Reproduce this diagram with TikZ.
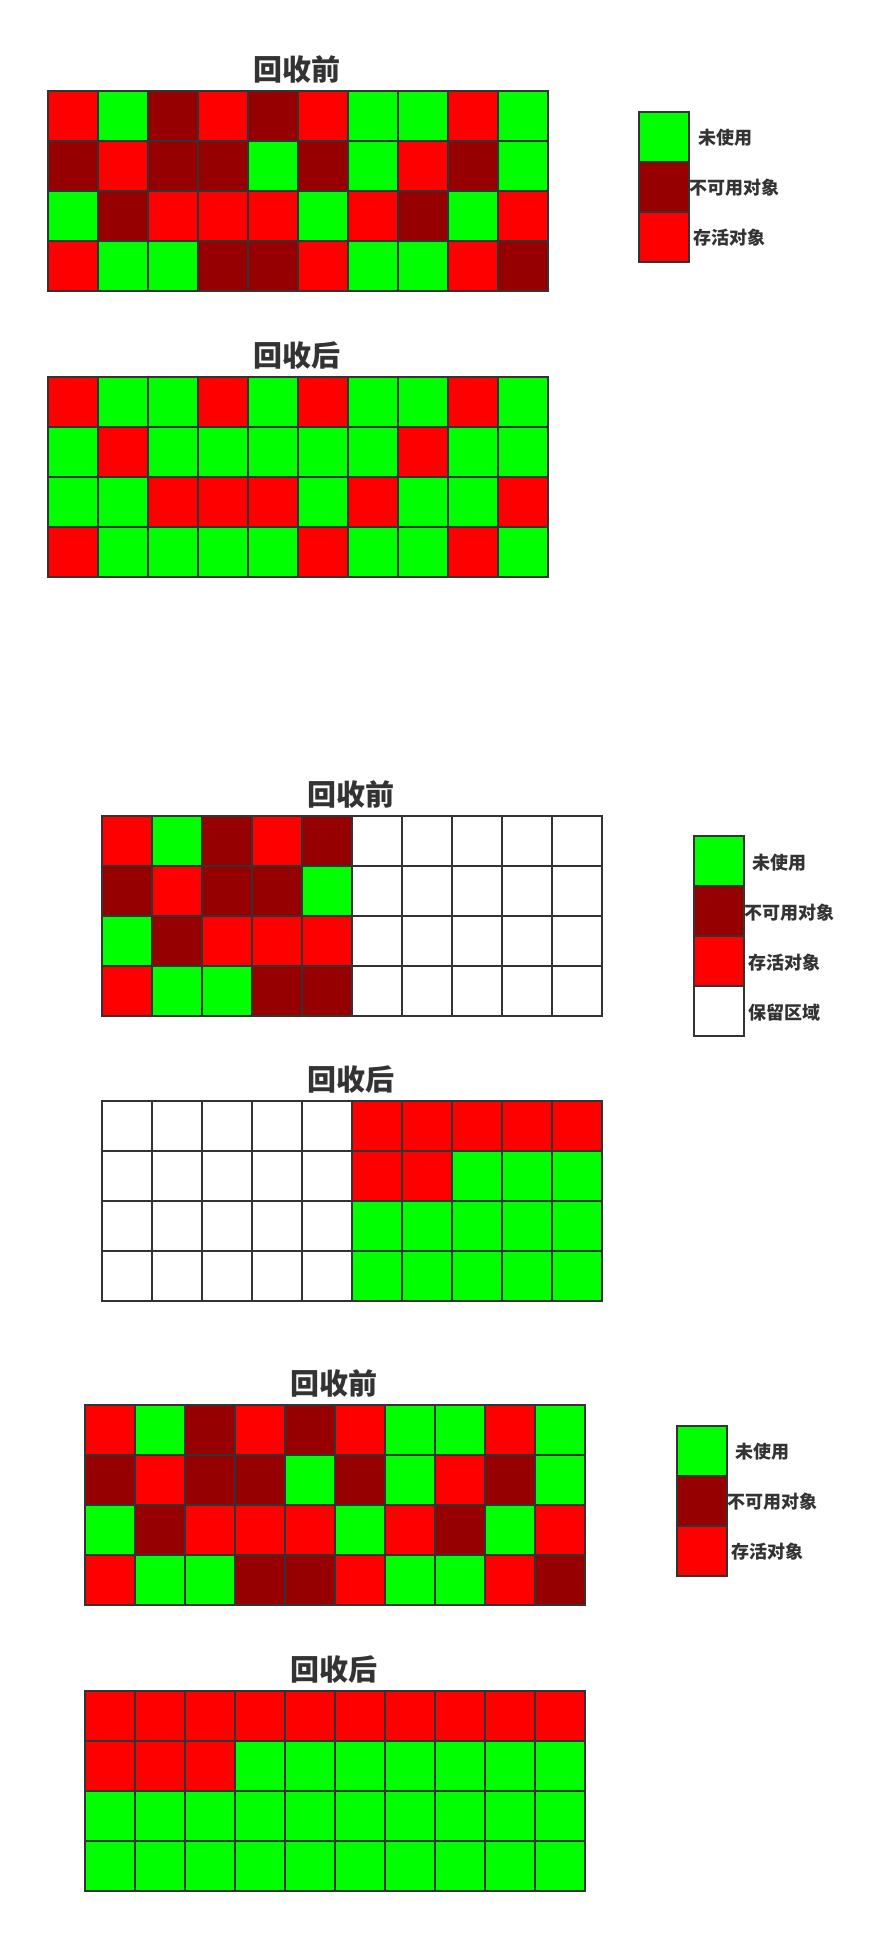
\documentclass[tikz,border=0pt]{standalone}
\usepackage{fontspec}
\newfontfamily\cjk{Noto Sans CJK SC}
\usepackage{tikz}
\usetikzlibrary{positioning}
\definecolor{free}{RGB}{0,255,0}
\definecolor{dead}{RGB}{150,0,0}
\definecolor{live}{RGB}{255,0,0}
\definecolor{rim}{RGB}{51,51,51}
\definecolor{ink}{RGB}{51,51,51}
\tikzset{
  cellbox/.style={draw=rim,line width=2pt},
  keybox/.style={draw=rim,line width=2pt,minimum width=50pt,minimum height=50pt,inner sep=0pt,outer sep=0pt},
  keytext/.style={text=ink,font=\cjk\bfseries\fontsize{18}{18}\selectfont,inner sep=0pt,yshift=-1.5pt},
  gctitle/.style={text=ink,font=\cjk\bfseries\fontsize{29}{29}\selectfont,inner sep=0pt}
}
% #1,#2: top left corner of the heap, #3: rows of cell colours
\newcommand{\heapgrid}[3]{%
\foreach \cells [count=\ri from 0] in {#3}{
  \foreach \col [count=\ci from 0] in \cells {
    \draw[cellbox,fill=\col] ({#1+50*\ci},{#2+50*\ri}) rectangle ++(50,50);
  }
}}

\begin{document}
\begin{tikzpicture}[x=1pt,y=-1pt]
\useasboundingbox[fill=white] (0,0) rectangle (895,1952);

% mark-sweep
\node[gctitle] (msbefore) at (296.5,70) {回收前};
\heapgrid{48}{91}{
{live,free,dead,live,dead,live,free,free,live,free},
{dead,live,dead,dead,free,dead,free,live,dead,free},
{free,dead,live,live,live,free,live,dead,free,live},
{live,free,free,dead,dead,live,free,free,live,dead}}
\node[gctitle] (msafter) at (296.5,356) {回收后};
\heapgrid{48}{377}{
{live,free,free,live,free,live,free,free,live,free},
{free,live,free,free,free,free,free,live,free,free},
{free,free,live,live,live,free,live,free,free,live},
{live,free,free,free,free,live,free,free,live,free}}
\node[keybox,fill=free] (k1free) at (664,136.5) {};
\node[keybox,fill=dead,below=0pt of k1free] (k1dead) {};
\node[keybox,fill=live,below=0pt of k1dead] (k1live) {};
\node[keytext,right=9pt of k1free] (l1free) {未使用};
\node[keytext,right=0.5pt of k1dead] (l1dead) {不可用对象};
\node[keytext,right=4.5pt of k1live] (l1live) {存活对象};

% copying
\node[gctitle] (cpbefore) at (350.5,795) {回收前};
\heapgrid{102}{816}{
{live,free,dead,live,dead,white,white,white,white,white},
{dead,live,dead,dead,free,white,white,white,white,white},
{free,dead,live,live,live,white,white,white,white,white},
{live,free,free,dead,dead,white,white,white,white,white}}
\node[gctitle] (cpafter) at (350.5,1080) {回收后};
\heapgrid{102}{1101}{
{white,white,white,white,white,live,live,live,live,live},
{white,white,white,white,white,live,live,free,free,free},
{white,white,white,white,white,free,free,free,free,free},
{white,white,white,white,white,free,free,free,free,free}}
\node[keybox,fill=free] (k2free) at (718.5,861) {};
\node[keybox,fill=dead,below=0pt of k2free] (k2dead) {};
\node[keybox,fill=live,below=0pt of k2dead] (k2live) {};
\node[keybox,fill=white,below=0pt of k2live] (k2spare) {};
\node[keytext,right=9pt of k2free] (l2free) {未使用};
\node[keytext,right=0.5pt of k2dead] (l2dead) {不可用对象};
\node[keytext,right=4.5pt of k2live] (l2live) {存活对象};
\node[keytext,right=4.5pt of k2spare] (l2spare) {保留区域};

% mark-compact
\node[gctitle] (mcbefore) at (333.5,1384) {回收前};
\heapgrid{85}{1405}{
{live,free,dead,live,dead,live,free,free,live,free},
{dead,live,dead,dead,free,dead,free,live,dead,free},
{free,dead,live,live,live,free,live,dead,free,live},
{live,free,free,dead,dead,live,free,free,live,dead}}
\node[gctitle] (mcafter) at (333.5,1670) {回收后};
\heapgrid{85}{1691}{
{live,live,live,live,live,live,live,live,live,live},
{live,live,live,free,free,free,free,free,free,free},
{free,free,free,free,free,free,free,free,free,free},
{free,free,free,free,free,free,free,free,free,free}}
\node[keybox,fill=free] (k3free) at (701.5,1450.5) {};
\node[keybox,fill=dead,below=0pt of k3free] (k3dead) {};
\node[keybox,fill=live,below=0pt of k3dead] (k3live) {};
\node[keytext,right=9pt of k3free] (l3free) {未使用};
\node[keytext,right=0.5pt of k3dead] (l3dead) {不可用对象};
\node[keytext,right=4.5pt of k3live] (l3live) {存活对象};
\end{tikzpicture}
\end{document}
